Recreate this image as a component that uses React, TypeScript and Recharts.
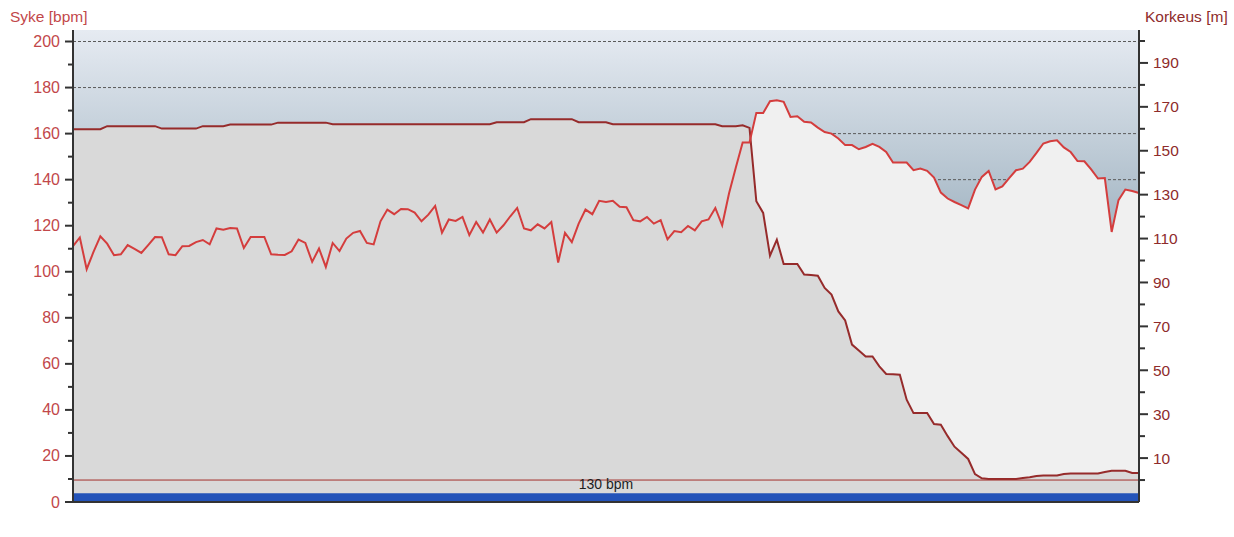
import { ComposedChart, Area, Line, XAxis, YAxis, CartesianGrid, ReferenceLine, ReferenceArea } from "recharts"

// one sample every 1/6 of an x tick, 157 samples
const syke = [
  111.1, 114.9, 101.1, 108.6, 115.4, 112.2, 107.2, 107.6, 111.6, 109.9,
  108.2, 111.6, 115.1, 115.0, 107.6, 107.2, 111.1, 111.2, 112.9, 113.8,
  111.9, 118.8, 118.3, 119.0, 118.8, 110.3, 115.1, 115.1, 115.1, 107.6,
  107.4, 107.3, 108.9, 114.0, 112.5, 104.3, 110.1, 102.1, 112.5, 109.0,
  114.4, 116.9, 117.7, 112.5, 111.9, 121.9, 127.0, 125.0, 127.3, 127.2,
  125.7, 121.9, 124.8, 128.6, 117.0, 122.7, 122.1, 123.8, 115.9, 121.6,
  117.0, 122.7, 117.0, 120.2, 124.1, 127.7, 118.8, 118.0, 120.6, 118.8,
  121.6, 104.0, 116.9, 112.9, 120.9, 127.0, 125.0, 130.8, 130.3, 130.8,
  128.2, 128.0, 122.4, 121.9, 123.8, 120.9, 122.4, 114.1, 117.7, 117.2,
  119.9, 118.0, 121.9, 122.7, 127.7, 120.2, 134.0, 145.3, 156.1, 156.1,
  169.0, 169.0, 174.1, 174.5, 173.8, 167.2, 167.5, 165.1, 164.8, 162.6,
  160.7, 160.0, 157.9, 155.0, 155.0, 153.2, 154.2, 155.6, 154.2, 152.0,
  147.4, 147.4, 147.4, 144.1, 144.8, 143.8, 140.9, 134.4, 131.8, 130.3,
  128.9, 127.5, 135.7, 141.2, 143.8, 135.8, 137.1, 140.7, 144.1, 144.8,
  147.7, 151.6, 155.7, 156.7, 157.1, 154.0, 152.0, 148.1, 148.0, 144.5,
  140.5, 140.7, 117.3, 131.1, 135.7, 135.1, 134.2,
]

const korkeus = [
  159.8, 159.8, 159.8, 159.8, 159.8, 161.2, 161.2, 161.2, 161.2, 161.2,
  161.2, 161.2, 161.2, 160.1, 160.1, 160.1, 160.1, 160.1, 160.1, 161.2,
  161.2, 161.2, 161.2, 161.9, 161.9, 161.9, 161.9, 161.9, 161.9, 161.9,
  162.8, 162.8, 162.8, 162.8, 162.8, 162.8, 162.8, 162.8, 162.1, 162.1,
  162.1, 162.1, 162.1, 162.1, 162.1, 162.1, 162.1, 162.1, 162.1, 162.1,
  162.1, 162.1, 162.1, 162.1, 162.1, 162.1, 162.1, 162.1, 162.1, 162.1,
  162.1, 162.1, 163.0, 163.0, 163.0, 163.0, 163.0, 164.4, 164.4, 164.4,
  164.4, 164.4, 164.4, 164.4, 163.0, 163.0, 163.0, 163.0, 163.0, 162.1,
  162.1, 162.1, 162.1, 162.1, 162.1, 162.1, 162.1, 162.1, 162.1, 162.1,
  162.1, 162.1, 162.1, 162.1, 162.1, 161.2, 161.2, 161.2, 161.6, 160.4,
  127.0, 121.7, 102.2, 109.5, 98.4, 98.4, 98.4, 93.6, 93.4, 93.1,
  87.5, 84.5, 76.8, 72.7, 61.7, 59.0, 56.3, 56.3, 51.8, 48.3,
  48.2, 48.0, 36.6, 30.5, 30.5, 30.5, 25.5, 25.2, 20.0, 15.2,
  12.4, 9.6, 2.7, 0.8, 0.5, 0.5, 0.5, 0.5, 0.5, 0.9,
  1.3, 1.8, 2.1, 2.1, 2.1, 2.8, 3.0, 3.0, 3.0, 3.0,
  3.0, 3.7, 4.2, 4.2, 4.2, 3.2, 3.2,
]

const xTicks = [0, 6, 12, 18, 24, 30, 36, 42, 48, 54, 60, 66, 72, 78, 84, 90, 96, 102, 108, 114, 120, 126, 132, 138, 144, 150, 156]
const sykeTicks = [0, 10, 20, 30, 40, 50, 60, 70, 80, 90, 100, 110, 120, 130, 140, 150, 160, 170, 180, 190, 200]
const sykeLabels = [0, 20, 40, 60, 80, 100, 120, 140, 160, 180, 200]
const korkeusTicks = [0, 10, 20, 30, 40, 50, 60, 70, 80, 90, 100, 110, 120, 130, 140, 150, 160, 170, 180, 190, 200]
const korkeusLabels = [10, 30, 50, 70, 90, 110, 130, 150, 170, 190]
const raja = "130 bpm"

const data = syke.map((v, i) => ({ n: i, syke: v, korkeus: korkeus[i] }))

const font = '"Liberation Sans", Arial, sans-serif'
const sykeColor = "#c2474a"
const korkeusColor = "#8e2b2b"

function SykeTick(props: any) {
  const { x, y, payload } = props
  const major = sykeLabels.includes(payload.value)
  return (
    <g>
      <line x1={x - (major ? 8 : 5)} x2={x} y1={y} y2={y} stroke="#333" strokeWidth={2} />
      {major && (
        <text x={x - 13} y={y + 5.5} textAnchor="end" fill={sykeColor} fontSize={16} fontFamily={font}>
          {payload.value}
        </text>
      )}
    </g>
  )
}

function KorkeusTick(props: any) {
  const { x, y, payload } = props
  const major = korkeusLabels.includes(payload.value)
  return (
    <g>
      <line x1={x} x2={x + (major ? 9 : 6)} y1={y} y2={y} stroke="#333" strokeWidth={2} />
      {major && (
        <text x={x + 14} y={y + 5.5} textAnchor="start" fill={korkeusColor} fontSize={15.5} fontFamily={font}>
          {payload.value}
        </text>
      )}
    </g>
  )
}

export default function App() {
  return (
    <div style={{ position: "absolute", left: 0, top: 0, width: 1234, height: 537, background: "#fff" }}>
      <ComposedChart width={1234} height={537} data={data} margin={{ top: 30, right: 0, bottom: 0, left: 0 }}>
        <defs>
          <linearGradient id="tausta" x1="0" y1="0" x2="0" y2="1">
            <stop offset="0" stopColor="#e6ebf2" />
            <stop offset="0.38" stopColor="#aabbc8" />
            <stop offset="1" stopColor="#8fa5b6" />
          </linearGradient>
        </defs>
        <CartesianGrid
          yAxisId="left"
          vertical={false}
          horizontalValues={sykeLabels}
          stroke="#5a5a5a"
          strokeDasharray="3 2"
          fill="url(#tausta)"
          fillOpacity={1}
        />
        <XAxis
          dataKey="n"
          type="number"
          domain={[0, 156]}
          ticks={xTicks}
          interval={0}
          tick={false}
          height={35}
          tickSize={7}
          stroke="#333"
          strokeWidth={2}
        />
        <XAxis
          xAxisId="top"
          orientation="top"
          type="number"
          domain={[0, 156]}
          height={0}
          tick={false}
          tickLine={false}
          stroke="#333"
          strokeWidth={2}
        />
        <YAxis
          yAxisId="left"
          type="number"
          domain={[0, 205]}
          ticks={sykeTicks}
          interval={0}
          width={73}
          tickSize={0}
          tickMargin={0}
          tickLine={false}
          tick={SykeTick}
          stroke="#333"
          strokeWidth={2}
          label={{
            content: (p: any) => (
              <text x={p.viewBox.x + 10} y={p.viewBox.y - 8} fill={sykeColor} fontSize={15.5} fontFamily={font}>
                Syke [bpm]
              </text>
            ),
          }}
        />
        <YAxis
          yAxisId="right"
          orientation="right"
          type="number"
          domain={[-10, 205]}
          ticks={korkeusTicks}
          interval={0}
          width={95}
          tickSize={0}
          tickMargin={0}
          tickLine={false}
          tick={KorkeusTick}
          stroke="#333"
          strokeWidth={2}
          label={{
            content: (p: any) => (
              <text x={p.viewBox.x + 6} y={p.viewBox.y - 8} fill={korkeusColor} fontSize={15.5} fontFamily={font}>
                Korkeus [m]
              </text>
            ),
          }}
        />
        <Area
          yAxisId="left"
          type="linear"
          dataKey="syke"
          stroke="none"
          fill="#f0f0f0"
          fillOpacity={1}
          dot={false}
          activeDot={false}
          isAnimationActive={false}
        />
        <Area
          yAxisId="right"
          type="linear"
          dataKey="korkeus"
          baseValue={-10}
          stroke="#962b2b"
          strokeWidth={2}
          fill="#d9d9d9"
          fillOpacity={1}
          dot={false}
          activeDot={false}
          isAnimationActive={false}
        />
        <Line
          yAxisId="left"
          type="linear"
          dataKey="syke"
          stroke="#d43d3d"
          strokeWidth={2}
          dot={false}
          activeDot={false}
          isAnimationActive={false}
        />
        <ReferenceArea yAxisId="left" y1={0} y2={3.8} fill="#2353b9" fillOpacity={1} stroke="none" />
        <ReferenceLine
          yAxisId="right"
          y={0}
          stroke="#a3302c"
          strokeWidth={1}
          label={{
            content: (p: any) => (
              <text
                x={p.viewBox.x + p.viewBox.width / 2}
                y={p.viewBox.y + 9}
                textAnchor="middle"
                fill="#1e1e1e"
                fontSize={14}
                fontFamily={font}
              >
                {raja}
              </text>
            ),
          }}
        />
      </ComposedChart>
    </div>
  )
}
